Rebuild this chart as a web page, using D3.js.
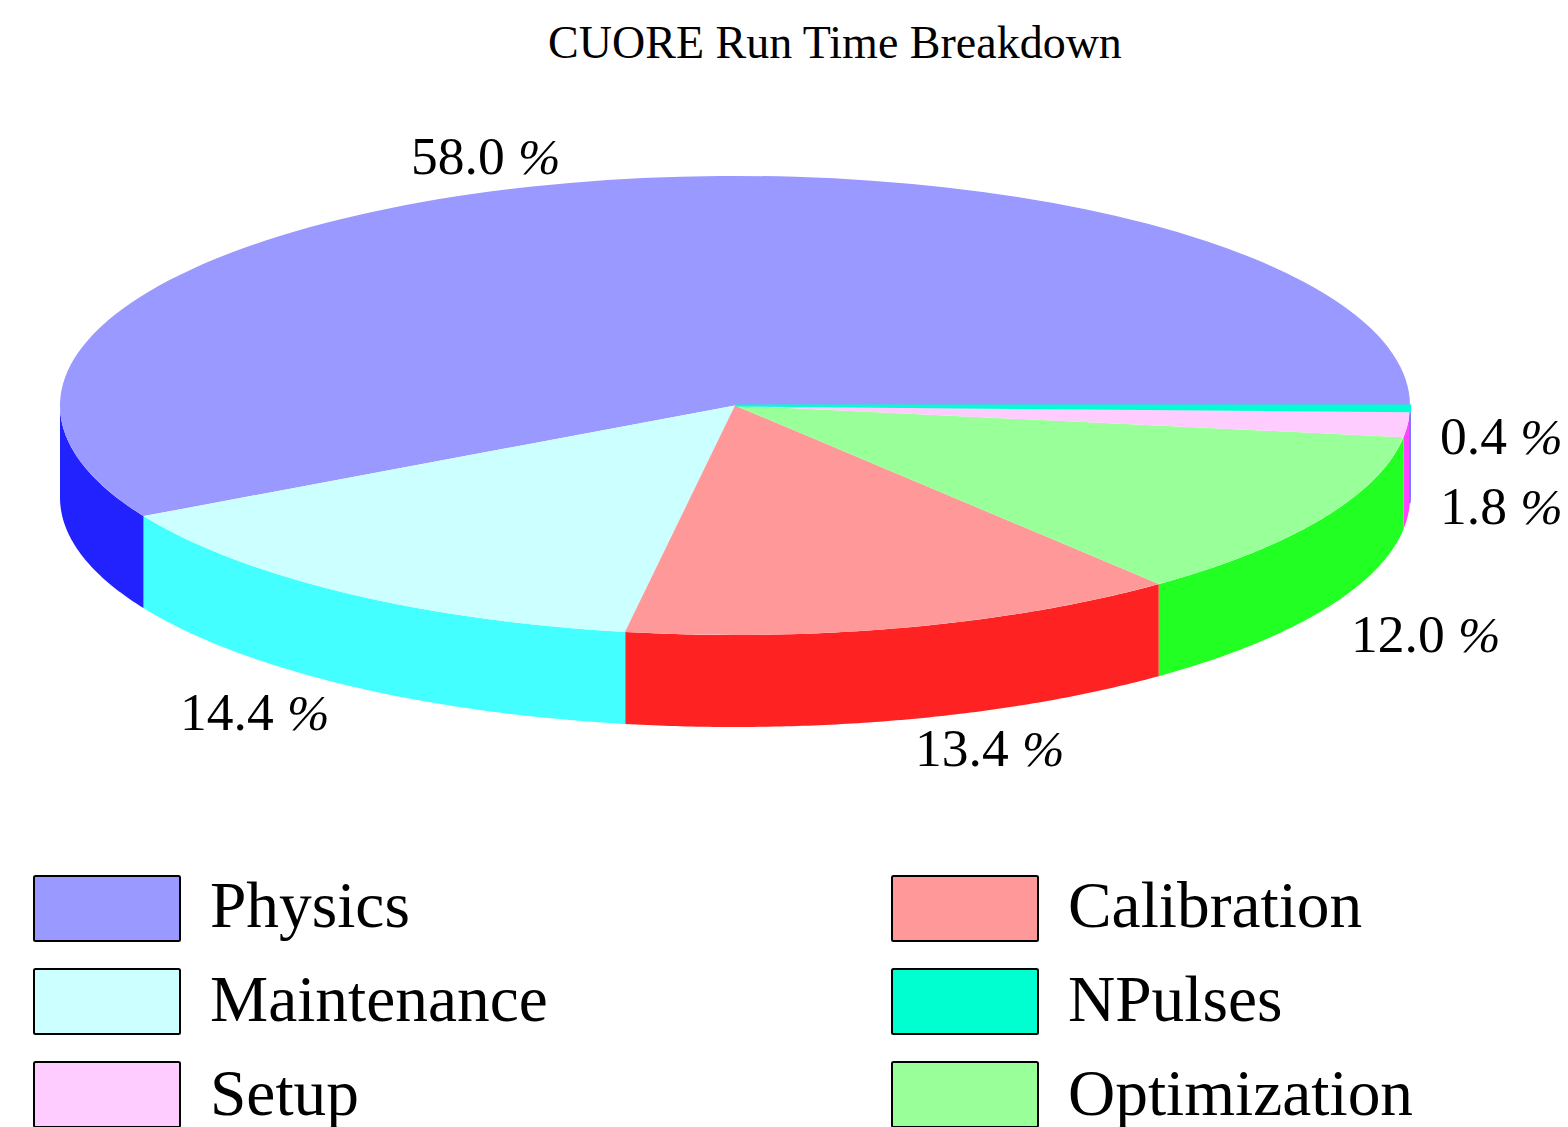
<!DOCTYPE html>
<html><head><meta charset="utf-8">
<script src="https://d3js.org/d3.v7.min.js"></script>
<style>html,body{margin:0;padding:0;background:#fff}svg{display:block}text{font-family:"Liberation Serif",serif;fill:#000}</style>
</head><body><svg width="1568" height="1127"></svg>
<script>
const categories = ["NPulses","Setup","Optimization","Calibration","Maintenance","Physics"];
const values = [0.4,1.8,12.0,13.4,14.4,58.0];
const labels = ["0.4","1.8","12.0","13.4","14.4","58.0"];
const topColors = ["#00ffd0","#ffccff","#99ff99","#ff9999","#ccffff","#9999ff"];
const wallColors = ["#2222ff","#ff44ff","#22ff22","#ff2222","#44ffff","#2222ff"];
const labelX = [1440,1440,1351,915,180,411];
const labelY = [454,524,652,766,730,174];
const legendOrder = ["Physics","Maintenance","Setup","Calibration","NPulses","Optimization"];

const W=1568,H=1127,cx=735,cy=405.5,rx=675,ry=229.5,depth=92;
const svg=d3.select("svg");
svg.append("text").attr("x",835).attr("y",58).attr("text-anchor","middle").attr("font-size",46).text("CUORE Run Time Breakdown");

const pie=d3.pie().sort(null).value(d=>d).startAngle(Math.PI/2).endAngle(Math.PI*2.5);
const arcs=pie(values);
const px=d3.scaleLinear().domain([-1,1]).range([cx-rx,cx+rx]);
const py=d3.scaleLinear().domain([-1,1]).range([cy-ry,cy+ry]);
const ux=a=>Math.sin(a), uy=a=>-Math.cos(a);

// walls
const g=svg.append("g");
const visEnd=Math.PI*1.5;
arcs.forEach((a,i)=>{
  const s=a.startAngle,e=Math.min(a.endAngle,visEnd);
  if(e<=s) return;
  const n=Math.max(2,Math.ceil((e-s)*120));
  const angs=d3.range(n+1).map(k=>s+(e-s)*k/n);
  const top=angs.map(t=>[px(ux(t)),py(uy(t))]);
  const bot=angs.slice().reverse().map(t=>[px(ux(t)),py(uy(t))+depth]);
  g.append("path").attr("d",d3.line()(top.concat(bot))+"Z").attr("fill",wallColors[i])
   .attr("stroke",i===0?wallColors[i]:"none").attr("stroke-width",i===0?1.2:0);
});
// top face: the thin NPulses slice is drawn last with a hairline so it stays visible
const arc=d3.arc().innerRadius(0).outerRadius(1);
const tg=svg.append("g").attr("transform",`translate(${cx},${cy}) scale(${rx},${ry})`);
tg.selectAll("path").data(arcs.slice().reverse()).join("path").attr("d",arc)
  .attr("fill",d=>topColors[d.index])
  .attr("stroke",d=>d.index===0?topColors[0]:"none")
  .attr("stroke-width",d=>d.index===0?2:0)
  .attr("vector-effect","non-scaling-stroke");

const lab=svg.append("g").selectAll("text").data(labels).join("text")
 .attr("x",(d,i)=>labelX[i]).attr("y",(d,i)=>labelY[i]).attr("font-size",53.5).attr("xml:space","preserve");
lab.append("tspan").text(d=>d+" ");
lab.append("tspan").attr("font-style","italic").attr("font-size",51).text("%");

const col=d3.scalePoint().domain([0,1]).range([34,892]);
const row=d3.scalePoint().domain([0,1,2]).range([876,1062]);
const base=d3.scalePoint().domain([0,1,2]).range([927,1115]);
const lg=svg.append("g");
legendOrder.forEach((n,k)=>{
  const c=Math.floor(k/3),r=k%3;
  const color=topColors[categories.indexOf(n)];
  lg.append("rect").attr("x",col(c)).attr("y",row(r)).attr("width",146).attr("height",65).attr("rx",1.5)
    .attr("fill",color).attr("stroke","#000").attr("stroke-width",2);
  lg.append("text").attr("x",col(c)+176).attr("y",base(r)).attr("font-size",65.4).text(n);
});
</script></body></html>
